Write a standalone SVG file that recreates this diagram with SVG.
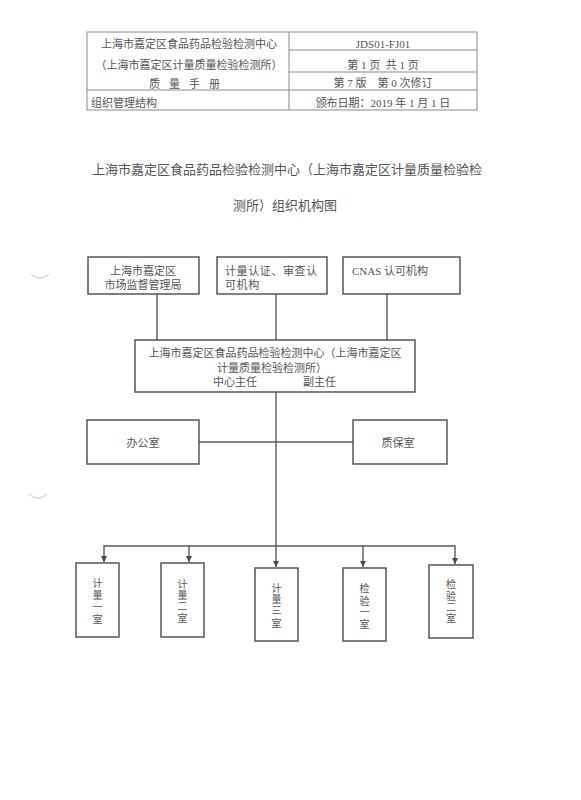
<svg xmlns="http://www.w3.org/2000/svg" width="581" height="800" viewBox="0 0 581 800">
<defs>
<style>
.t{font-family:"Liberation Serif","Noto Sans CJK SC",serif;fill:#555555;font-size:11px}
.c{text-anchor:middle}
.v{font-size:10px}
.ti{font-size:13px}
.tb{fill:none;stroke:#8a8a8a;stroke-width:1}
.bx{fill:none;stroke:#4a4a4a;stroke-width:1.4}
.ln{fill:none;stroke:#5a5a5a;stroke-width:1.4}
.hole{fill:none;stroke:#d8d8d8;stroke-width:1.2}
</style>
<marker id="ah" viewBox="0 0 8 8" refX="8" refY="4" markerWidth="6" markerHeight="6" markerUnits="userSpaceOnUse" orient="auto-start-reverse">
<path d="M0,0 L8,4 L0,8 Z" fill="#4a4a4a"/>
</marker>
</defs>
<rect width="581" height="800" fill="#ffffff"/>
<path class="hole" d="M31,274 Q40,282 49,274"/>
<path class="hole" d="M29,494 Q38,502 47,494"/>

<g id="header">
<rect class="tb" x="87" y="32" width="390" height="78"/>
<line class="tb" x1="289" y1="32" x2="289" y2="110"/>
<line class="tb" x1="289" y1="50" x2="477" y2="50"/>
<line class="tb" x1="289" y1="72" x2="477" y2="72"/>
<line class="tb" x1="87" y1="90" x2="477" y2="90"/>
<text class="t c" x="189" y="48">上海市嘉定区食品药品检验检测中心</text>
<text class="t c" x="189" y="69">（上海市嘉定区计量质量检验检测所）</text>
<text class="t c" x="189" y="87.5" letter-spacing="9">质量手册</text>
<text class="t" x="91" y="107">组织管理结构</text>
<text class="t c" x="383" y="48">JDS01-FJ01</text>
<text class="t c" x="383" y="69" xml:space="preserve">第 1 页  共 1 页</text>
<text class="t c" x="383" y="87" xml:space="preserve">第 7 版    第 0 次修订</text>
<text class="t c" x="383" y="107">颁布日期：2019 年 1 月 1 日</text>
</g>

<g id="title">
<text class="t ti" x="92" y="174">上海市嘉定区食品药品检验检测中心（上海市嘉定区计量质量检验检</text>
<text class="t ti c" x="285" y="210">测所）组织机构图</text>
</g>

<g id="connectors">
<line class="ln" x1="157" y1="294" x2="157" y2="340"/>
<line class="ln" x1="276" y1="294" x2="276" y2="340"/>
<line class="ln" x1="387" y1="294" x2="387" y2="340"/>
<line class="ln" x1="276" y1="392" x2="276" y2="567" marker-end="url(#ah)"/>
<line class="ln" x1="199" y1="442" x2="353" y2="442"/>
<polyline class="ln" points="104,562 104,546 455,546 455,564" marker-start="url(#ah)" marker-end="url(#ah)"/>
<line class="ln" x1="189" y1="546" x2="189" y2="562" marker-end="url(#ah)"/>
<line class="ln" x1="363" y1="546" x2="363" y2="567" marker-end="url(#ah)"/>
</g>

<g id="n-market">
<rect class="bx" x="88" y="257" width="111" height="37"/>
<text class="t c" x="143" y="275">上海市嘉定区</text>
<text class="t c" x="143" y="289">市场监督管理局</text>
</g>
<g id="n-cert">
<rect class="bx" x="217" y="257" width="110" height="37"/>
<text class="t" x="225" y="275" letter-spacing="0.6">计量认证、审查认</text>
<text class="t" x="225" y="289" letter-spacing="0.6">可机构</text>
</g>
<g id="n-cnas">
<rect class="bx" x="343" y="257" width="117" height="37"/>
<text class="t" x="352" y="275">CNAS 认可机构</text>
</g>
<g id="n-center">
<rect class="bx" x="135" y="340" width="280" height="52"/>
<text class="t c" x="275" y="357">上海市嘉定区食品药品检验检测中心（上海市嘉定区</text>
<text class="t c" x="272" y="372">计量质量检验检测所）</text>
<text class="t" x="213" y="386">中心主任</text>
<text class="t" x="303" y="386">副主任</text>
</g>
<g id="n-office">
<rect class="bx" x="87" y="420" width="112" height="44"/>
<text class="t c" x="143" y="447">办公室</text>
</g>
<g id="n-qa">
<rect class="bx" x="353" y="420" width="94" height="44"/>
<text class="t c" x="398" y="447">质保室</text>
</g>
<g id="n-m1">
<rect class="bx" x="76" y="563" width="43" height="74"/>
<text class="t v c"><tspan x="97.5" y="587">计</tspan><tspan x="97.5" y="599">量</tspan><tspan x="97.5" y="611">一</tspan><tspan x="97.5" y="623">室</tspan></text>
</g>
<g id="n-m2">
<rect class="bx" x="161" y="563" width="43" height="74"/>
<text class="t v c"><tspan x="182.5" y="588">计</tspan><tspan x="182.5" y="599">量</tspan><tspan x="182.5" y="610">二</tspan><tspan x="182.5" y="622">室</tspan></text>
</g>
<g id="n-m3">
<rect class="bx" x="255" y="568" width="43" height="73"/>
<text class="t v c"><tspan x="276.5" y="592">计</tspan><tspan x="276.5" y="603">量</tspan><tspan x="276.5" y="614">三</tspan><tspan x="276.5" y="627">室</tspan></text>
</g>
<g id="n-i1">
<rect class="bx" x="343" y="568" width="43" height="73"/>
<text class="t v c"><tspan x="364.5" y="592">检</tspan><tspan x="364.5" y="605">验</tspan><tspan x="364.5" y="616">一</tspan><tspan x="364.5" y="628">室</tspan></text>
</g>
<g id="n-i2">
<rect class="bx" x="429" y="565" width="44" height="73"/>
<text class="t v c"><tspan x="451" y="588">检</tspan><tspan x="451" y="600">验</tspan><tspan x="451" y="611">二</tspan><tspan x="451" y="622">室</tspan></text>
</g>
</svg>
